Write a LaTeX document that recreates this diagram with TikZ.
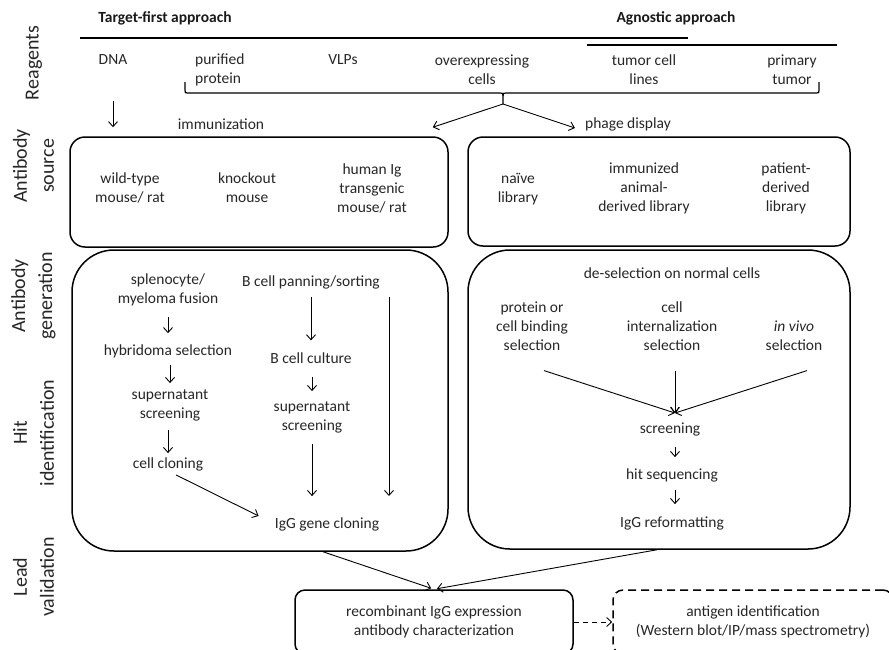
\documentclass[tikz,border=0pt]{standalone}
\usepackage{fontspec}
\setmainfont{Carlito}
\usetikzlibrary{arrows.meta}
\begin{document}
\begin{tikzpicture}[x=1pt,y=-1pt,
  txt/.style={font=\fontsize{15.5}{19}\selectfont, text=black!85, align=center, inner sep=0pt},
  hd/.style={font=\fontsize{15.5}{19}\selectfont\bfseries, text=black!90, inner sep=0pt},
  lbl/.style={font=\fontsize{20}{27}\selectfont, text=black!85, align=center, rotate=90, inner sep=0pt},
  box/.style={draw, line width=1.5pt, rounded corners=#1, inner sep=0pt},
  box/.default=15pt,
  arr/.style={line width=0.9pt, -{Straight Barb[length=5pt,width=9pt]}},
  rulel/.style={line width=1.2pt}
]
\useasboundingbox (0,0) rectangle (889,649);
\clip (0,0) rectangle (889,649);

% headings
\node[hd] (tfa) at (165,18) {Target-first approach};
\node[hd] (aga) at (676,18) {Agnostic approach};
\draw[rulel] (80,38) -- (688,38);
\draw[rulel] (587,45) -- (837,45);

% row labels
\node[lbl] (l1) at (34,63) {Reagents};
\node[lbl] (l2) at (33.5,166) {Antibody\\source};
\node[lbl] (l3) at (33.5,296) {Antibody\\generation};
\node[lbl] (l4) at (33.5,433) {Hit\\identification};
\node[lbl] (l5) at (33.5,577) {Lead\\validation};

% reagents
\node[txt] (dna) at (113,60) {DNA};
\node[txt, align=left, anchor=west] (pp) at (195,70) {purified\\protein};
\node[txt] (vlp) at (343,60) {VLPs};
\node[txt] (oc) at (482,70) {overexpressing\\cells};
\node[txt] (tc) at (644,70) {tumor cell\\lines};
\node[txt] (pt) at (792,70) {primary\\tumor};

% brace
\draw[rulel] (185,82) -- (185,90) .. controls (185,93) .. (188,93) -- (500,93)
  .. controls (503,93) .. (503,96) -- (503,104);
\draw[rulel] (503,96) .. controls (503,93) .. (506,93) -- (816,93)
  .. controls (819,93) .. (819,90) -- (819,82);
\coordinate (br) at (503,104);

% antibody source boxes
\node[box=15pt, minimum width=378pt, minimum height=110pt] (srcL) at (259,192) {};
\node[box=15pt, minimum width=382pt, minimum height=109pt] (srcR) at (659,191.5) {};

\node[txt] (imm) at (221,124) {immunization};
\node[txt] (phage) at (628,124) {phage display};
\draw[arr] (br) -- ([xshift=-16pt,yshift=9pt]srcL.north east);
\draw[arr] (br) -- ([xshift=-10pt,yshift=-4pt]phage.west);
\draw[arr, shorten <=36pt, shorten >=9pt] (dna.south) -- (dna.south |- srcL.north);

\node[txt] (wt) at (130,188) {wild-type\\mouse/ rat};
\node[txt] (ko) at (247,188) {knockout\\mouse};
\node[txt] (hig) at (372,188) {human Ig\\transgenic\\mouse/ rat};
\node[txt] (nv) at (518,189) {naïve\\library};
\node[txt] (ia) at (644,188) {immunized\\animal-\\derived library};
\node[txt] (pd) at (786,188) {patient-\\derived\\library};

% generation boxes
\node[box=42pt, minimum width=376pt, minimum height=301pt] (genL) at (260,400.5) {};
\node[box=42pt, minimum width=382pt, minimum height=299pt] (genR) at (659,399.5) {};

% left generation content
\node[txt] (spl) at (168,290) {splenocyte/\\myeloma fusion};
\node[txt] (hyb) at (168,351) {hybridoma selection};
\node[txt] (sup1) at (170,405) {supernatant\\screening};
\node[txt] (clon) at (168,464) {cell cloning};
\node[txt] (igg1) at (327,524) {IgG gene cloning};
\node[txt] (bcp) at (311,282) {B cell panning/sorting};
\node[txt] (bcc) at (311,358) {B cell culture};
\node[txt] (sup2) at (312,417) {supernatant\\screening};
\coordinate (vr) at (389,496);

\draw[arr, shorten <=11pt, shorten >=11pt] (spl) -- (hyb);
\draw[arr, shorten <=7pt, shorten >=6pt] (hyb.south -| sup1) -- (sup1);
\draw[arr, shorten <=9pt, shorten >=4pt] (sup1.south -| clon) -- (clon);
\draw[arr, shorten <=9pt, shorten >=18pt] (clon.south) -- (igg1.west);
\draw[arr, shorten <=8pt, shorten >=12pt] (bcp) -- (bcc);
\draw[arr, shorten <=13pt, shorten >=10pt] (bcc.south -| sup2) -- (sup2);
\draw[arr, shorten <=11pt, shorten >=21pt] (sup2.south) -- (sup2.south |- igg1.north);
\draw[arr, shorten <=8pt] (bcp.south -| vr) -- (vr);

% right generation content
\node[txt] (des) at (672,273) {de-selection on normal cells};
\node[txt] (pb) at (532,326) {protein or\\cell binding\\selection};
\node[txt] (ci) at (672,326) {cell\\internalization\\selection};
\node[txt] (iv) at (794,335.5) {\textit{in vivo}\\selection};
\node[txt] (scr) at (670,429) {screening};
\node[txt] (hs) at (672,475) {hit sequencing};
\node[txt] (igr) at (672,523) {IgG reformatting};
\coordinate (conv) at (675,413);

\draw[arr] ([xshift=12pt,yshift=-20pt]pb.south) -- (conv);
\draw[arr] ([xshift=3pt,yshift=-20pt]ci.south) -- (conv);
\draw[arr] ([xshift=13pt,yshift=-20pt]iv.south) -- (conv);
\draw[arr, shorten <=11pt, shorten >=11pt] (scr.south -| conv) -- (hs.north -| conv);
\draw[arr, shorten <=8pt, shorten >=12pt] (hs.south -| conv) -- (igr.north -| conv);

% lead validation
\node[box=10pt, txt, minimum width=278pt, minimum height=64pt] (rec) at (434,622)
  {recombinant IgG expression\\antibody characterization};
\node[box=10pt, txt, dash pattern=on 8pt off 5pt, minimum width=280pt, minimum height=64pt] (ant) at (753,622)
  {antigen identification\\(Western blot/IP/mass spectrometry)};
\draw[arr, dash pattern=on 5pt off 4pt] (rec) -- (ant);
\draw[arr, shorten >=3pt] ([xshift=63pt]genL.south) -- (rec.north);
\draw[arr, shorten >=3pt] ([xshift=-2pt]genR.south) -- (rec.north);
\end{tikzpicture}
\end{document}
